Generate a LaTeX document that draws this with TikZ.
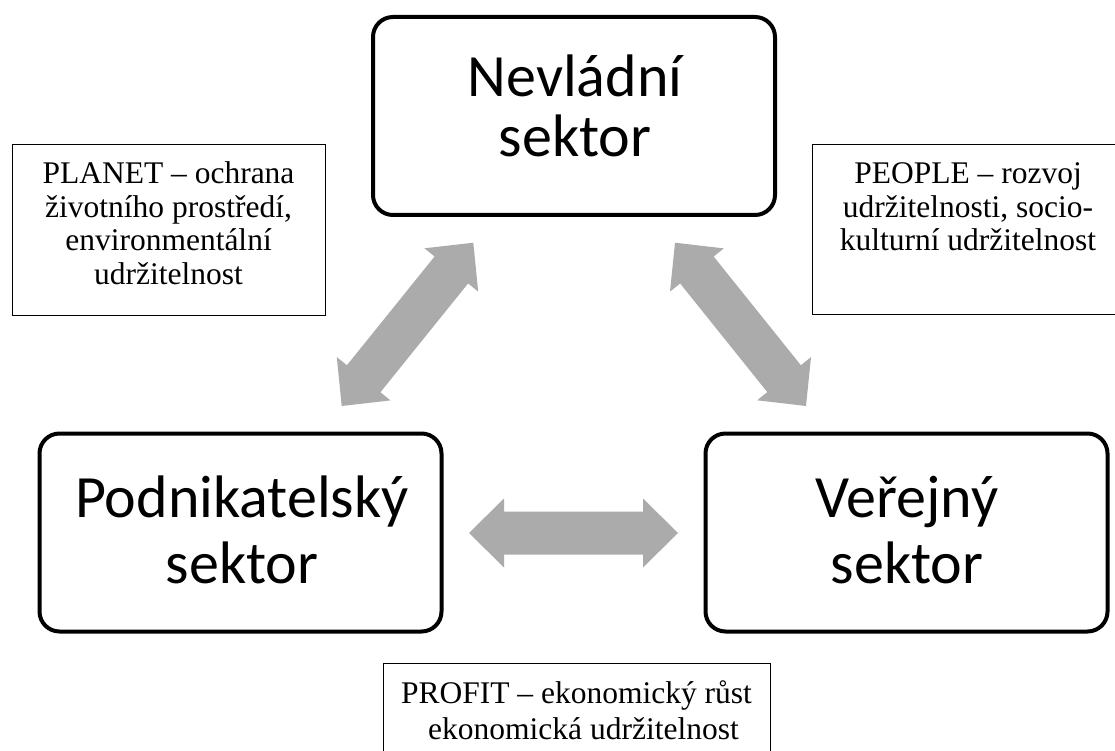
\documentclass[tikz,border=0pt]{standalone}
\usepackage{fontspec}
\setmainfont{Liberation Serif}
\newfontfamily\calibrifont{Carlito}
\usetikzlibrary{calc}
\definecolor{arrowgray}{HTML}{ABABAB}
\begin{document}
\begin{tikzpicture}[x=1pt,y=-1pt,
  bigbox/.style={draw=black, line width=4pt, rounded corners=20pt, minimum width=402pt, minimum height=198pt, inner sep=0pt},
  bigtextA/.style={font=\calibrifont\fontsize{60}{60}\selectfont, align=center, anchor=base, inner sep=0pt},
  bigtextB/.style={font=\calibrifont\fontsize{60}{66}\selectfont, align=center, anchor=base, inner sep=0pt},
  smallbox/.style={draw=black, line width=1pt, inner sep=0pt},
  smalltext/.style={font=\fontsize{31.5}{33.5}\selectfont, align=center, anchor=base, inner sep=0pt},
  blockarrow/.style={fill=arrowgray, draw=none, to path={
    -- ($(\tikztostart)!35pt!(\tikztotarget)!34.5pt!90:(\tikztotarget)$)
    -- ($(\tikztostart)!35pt!(\tikztotarget)!21.5pt!90:(\tikztotarget)$)
    -- ($(\tikztotarget)!35pt!(\tikztostart)!21.5pt!-90:(\tikztostart)$)
    -- ($(\tikztotarget)!35pt!(\tikztostart)!34.5pt!-90:(\tikztostart)$)
    -- (\tikztotarget)
    -- ($(\tikztotarget)!35pt!(\tikztostart)!34.5pt!90:(\tikztostart)$)
    -- ($(\tikztotarget)!35pt!(\tikztostart)!21.5pt!90:(\tikztostart)$)
    -- ($(\tikztostart)!35pt!(\tikztotarget)!21.5pt!-90:(\tikztotarget)$)
    -- ($(\tikztostart)!35pt!(\tikztotarget)!34.5pt!-90:(\tikztotarget)$)
    -- cycle}}
]
\clip (0,0) rectangle (1115,751);
\fill[white] (0,0) rectangle (1115,751);

% main sector boxes
\node[bigbox] (nev) at (574,116) {};
\node[bigbox] (pod) at (240.5,532.5) {};
\node[bigbox] (ver) at (906.5,532.5) {};
\node[bigtextA] (nevt) at (575,157) {Nevládní\\sektor};
\node[bigtextB] (podt) at (242,583) {Podnikatelský\\sektor};
\node[bigtextB] (vert) at (907,583) {Veřejný\\sektor};

% description boxes
\node[smallbox, minimum width=313pt, minimum height=170pt] (planet) at (168.5,230) {};
\node[smalltext] (planett) at (168.5,284) {PLANET – ochrana\\životního prostředí,\\environmentální\\udržitelnost};
\node[smallbox, minimum width=312pt, minimum height=169pt] (people) at (968,229.5) {};
\node[smalltext] (peoplet) at (968,251) {PEOPLE – rozvoj\\udržitelnosti, socio-\\kulturní udržitelnost};
\node[smallbox, minimum width=387pt, minimum height=137pt] (profit) at (576.5,731.5) {};
\node[smalltext, font=\fontsize{31.5}{36}\selectfont] (profitt) at (576.5,739) {PROFIT – ekonomický růst\\\hspace*{14pt}ekonomická udržitelnost};

% block arrows
\coordinate (la1) at (341.7,406);
\coordinate (la2) at (473.3,242.7);
\coordinate (ra1) at (675,242.7);
\coordinate (ra2) at (806,406);
\coordinate (ha1) at (469,533);
\coordinate (ha2) at (678,533);
\path[blockarrow] (la1) to (la2);
\path[blockarrow] (ra1) to (ra2);
\path[blockarrow] (ha1) to (ha2);
\end{tikzpicture}
\end{document}
